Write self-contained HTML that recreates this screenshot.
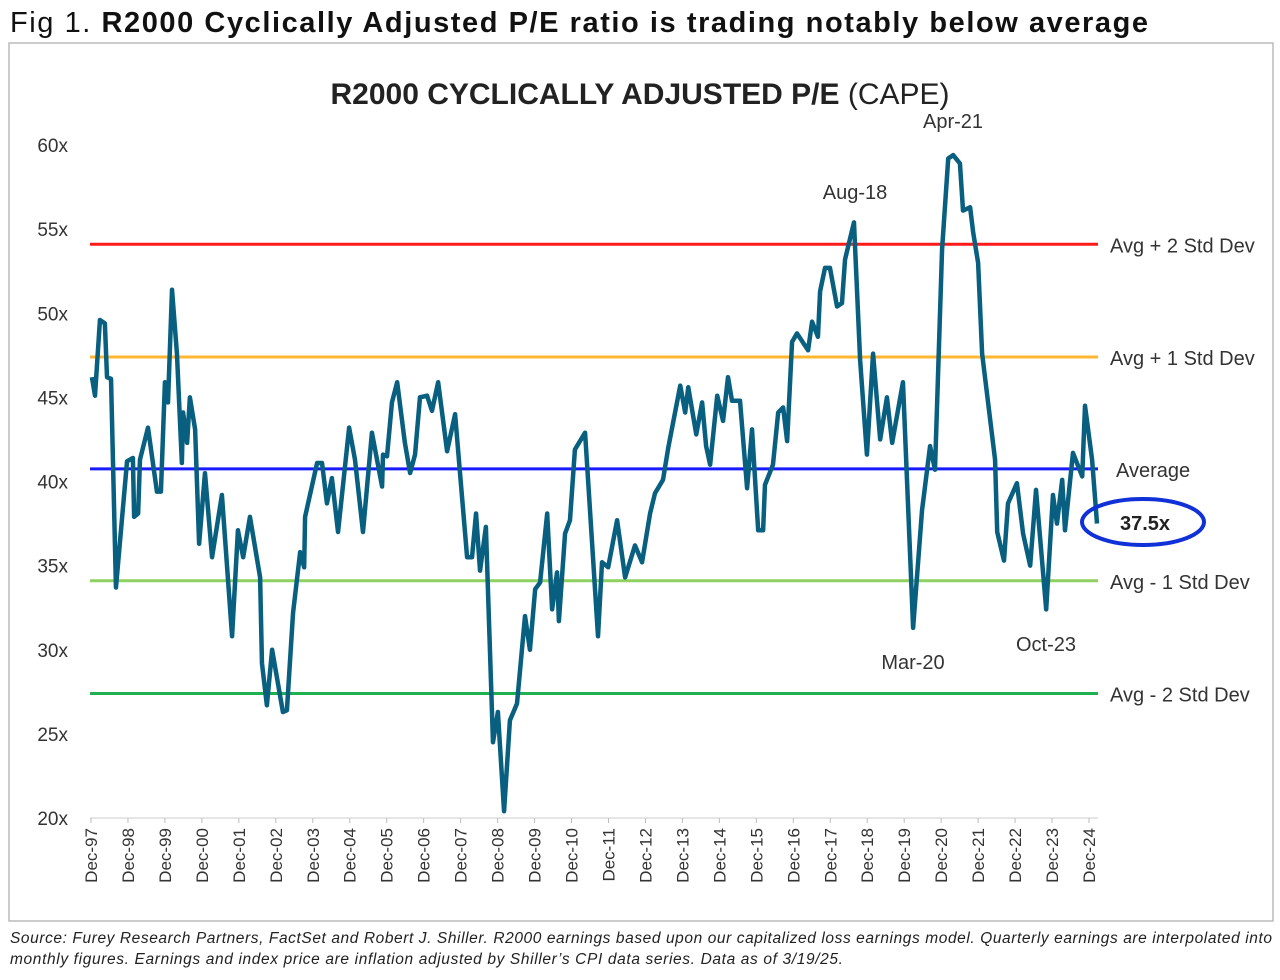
<!DOCTYPE html>
<html><head><meta charset="utf-8"><style>
body{margin:0;width:1280px;height:975px;background:#fff;font-family:"Liberation Sans",sans-serif;overflow:hidden}
svg text{font-family:"Liberation Sans",sans-serif}
</style></head><body>
<svg width="1280" height="975">
<rect x="0" y="0" width="1280" height="975" fill="#fff"/>
<text x="10" y="32" font-size="29" fill="#111" textLength="1138" lengthAdjust="spacing">Fig 1.  <tspan font-weight="bold">R2000 Cyclically Adjusted P/E ratio is trading notably below average</tspan></text>
<rect x="9" y="43" width="1264" height="878" fill="none" stroke="#bbb" stroke-width="1.5"/>
<text x="640" y="104" font-size="30" text-anchor="middle" fill="#222"><tspan font-weight="bold">R2000 CYCLICALLY ADJUSTED P/E</tspan> (CAPE)</text>
<g id="plot"></g>
<line x1="90" y1="818" x2="1098" y2="818" stroke="#ccc"/>
<ellipse cx="1143" cy="522" rx="61" ry="23" fill="none" stroke="#1030d8" stroke-width="4"/>
<text x="1145" y="530" font-size="20" font-weight="bold" text-anchor="middle" fill="#222">37.5x</text>
<text x="953" y="128" font-size="20" text-anchor="middle" fill="#333">Apr-21</text>
<text x="855" y="199" font-size="20" text-anchor="middle" fill="#333">Aug-18</text>
<text x="913" y="669" font-size="20" text-anchor="middle" fill="#333">Mar-20</text>
<text x="1046" y="651" font-size="20" text-anchor="middle" fill="#333">Oct-23</text>
<text x="10" y="943" font-size="15.5" font-style="italic" fill="#222" textLength="1262" lengthAdjust="spacing">Source: Furey Research Partners, FactSet and Robert J. Shiller.  R2000 earnings based upon our capitalized loss earnings model.  Quarterly earnings are interpolated into</text>
<text x="10" y="964" font-size="15.5" font-style="italic" fill="#222" textLength="833" lengthAdjust="spacing">monthly figures.  Earnings and index price are inflation adjusted by Shiller’s CPI data series.  Data as of 3/19/25.</text>
</svg>
<script>
const months=[0.3,1.3,2.9,4.5,5.2,6.5,8.1,11.7,13.6,14.0,15.3,15.9,18.5,21.4,22.7,24.0,25.0,26.3,27.9,29.5,29.9,31.2,32.1,33.8,35.1,37.0,39.3,42.5,45.8,47.7,49.4,51.6,54.9,55.5,57.1,58.8,62.3,63.6,65.6,67.9,69.2,69.5,73.4,75.0,76.6,78.2,80.2,83.8,85.7,88.3,91.2,94.5,94.8,96.1,97.7,99.4,101.9,103.6,105.2,106.8,109.1,110.7,112.7,115.6,118.2,119.8,122.1,123.7,125.0,126.3,128.2,130.5,132.1,134.1,136.0,138.3,140.9,142.5,144.2,145.8,148.1,149.7,151.3,151.9,153.9,155.5,157.1,160.4,164.6,165.9,167.9,170.8,173.4,176.6,178.9,181.5,183.1,185.7,187.4,191.3,192.9,193.9,196.5,198.4,199.7,201.0,203.3,205.2,206.8,208.1,210.7,213.0,214.6,216.6,218.2,218.8,221.4,223.1,224.7,226.0,227.6,229.2,232.8,234.1,236.0,236.7,238.3,239.9,242.2,243.8,244.8,247.7,249.7,251.9,253.9,256.2,258.4,260.1,263.6,266.9,269.8,272.4,274.0,276.3,278.3,279.9,282.1,283.1,285.4,286.4,288.0,289.3,293.5,294.2,296.4,297.7,300.6,302.6,304.9,306.8,310.1,312.3,313.6,315.3,316.2,318.8,321.8,322.7,325.0,326.6];
const values=[46.2,45.1,49.6,49.4,46.2,46.1,33.7,41.2,41.4,37.9,38.1,41.3,43.2,39.4,39.4,45.9,44.7,51.4,47.6,41.1,44.1,42.3,45.0,43.1,36.3,40.5,35.5,39.2,30.8,37.1,35.5,37.9,34.3,29.2,26.7,30.0,26.3,26.4,32.2,35.8,34.9,37.9,41.1,41.1,38.7,40.2,37.0,43.2,41.3,37.0,42.9,39.7,41.6,41.5,44.7,45.9,42.3,40.5,41.6,45.0,45.1,44.2,45.9,41.8,44.0,40.5,35.5,35.5,38.1,34.7,37.3,24.5,26.3,20.4,25.8,26.8,32.0,30.0,33.6,34.0,38.1,32.4,34.6,31.7,36.9,37.7,41.9,42.9,30.8,35.2,34.9,37.7,34.3,36.2,35.2,38.1,39.3,40.1,42.0,45.7,44.1,45.6,42.8,44.7,42.1,41.0,45.1,43.6,46.2,44.8,44.8,39.6,43.1,37.1,37.1,39.8,41.0,44.1,44.4,42.4,48.3,48.8,47.8,49.5,48.6,51.3,52.7,52.7,50.4,50.6,53.2,55.4,47.2,41.6,47.6,42.5,45.0,42.3,45.9,31.3,38.3,42.1,40.7,53.8,59.2,59.4,58.9,56.1,56.3,54.8,53.0,47.6,41.3,37.0,35.3,38.7,39.9,36.9,35.0,39.5,32.4,39.2,37.5,40.1,37.1,41.7,40.3,44.5,41.3,37.5];
const yTicks=[60,55,50,45,40,35,30,25,20];
const xTickLabels=["Dec-97","Dec-98","Dec-99","Dec-00","Dec-01","Dec-02","Dec-03","Dec-04","Dec-05","Dec-06","Dec-07","Dec-08","Dec-09","Dec-10","Dec-11","Dec-12","Dec-13","Dec-14","Dec-15","Dec-16","Dec-17","Dec-18","Dec-19","Dec-20","Dec-21","Dec-22","Dec-23","Dec-24"];
const refValues=[54.1,47.4,40.75,34.1,27.4];
const refLabels=["Avg  + 2 Std Dev","Avg  + 1 Std Dev","Average","Avg  - 1 Std Dev","Avg  - 2 Std Dev"];
const refColors=["#ff1a1a","#ffb732","#1a1aff","#8fd160","#1fb050"];
const NS="http://www.w3.org/2000/svg";
const X=m=>91+m*(998/324);
const Y=v=>145+(60-v)*(673/40);
const g=document.getElementById('plot');
function mk(t,a){const e=document.createElementNS(NS,t);for(const k in a)e.setAttribute(k,a[k]);g.appendChild(e);return e;}
yTicks.forEach(v=>{const t=mk('text',{x:68,y:Y(v)+7,'font-size':19,'text-anchor':'end',fill:'#333'});t.textContent=v+'x';

});
xTickLabels.forEach((s,i)=>{const x=X(i*12);const t=mk('text',{transform:`translate(${x+6},828) rotate(-90)`,'font-size':17,'text-anchor':'end',fill:'#333'});t.textContent=s;


const l=mk('line',{x1:x,y1:818,x2:x,y2:823,stroke:'#bbb'});

});
refValues.forEach((v,i)=>{const l=mk('line',{x1:90,y1:Y(v),x2:1098,y2:Y(v),stroke:refColors[i],'stroke-width':3});


const t=mk('text',{x:i==2?1116:1110,y:Y(v)+8,'font-size':20,fill:'#333'});t.textContent=refLabels[i];

});
const p=mk('polyline',{points:months.map((m,i)=>X(m)+','+Y(values[i])).join(' '),fill:'none',stroke:'#085f7f','stroke-width':4.5,'stroke-linejoin':'round'});


</script>
</body></html>
